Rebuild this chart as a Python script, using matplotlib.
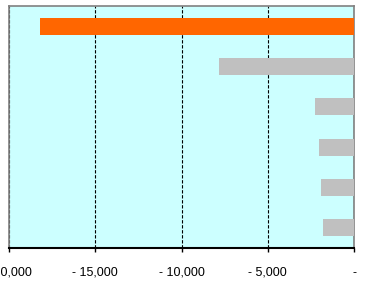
import matplotlib.pyplot as plt
from matplotlib.ticker import FuncFormatter

plt.rcParams['font.family'] = ['Liberation Sans', 'DejaVu Sans']

categories = ['A', 'B', 'C', 'D', 'E', 'F']
values = [-18180, -7830, -2250, -2020, -1900, -1790]
colors = ['#FF6600', '#C0C0C0', '#C0C0C0', '#C0C0C0', '#C0C0C0', '#C0C0C0']
xticks = [-20000, -15000, -10000, -5000, 0]


def fmt(v, pos):
    # accounting style: zero shown as a dash
    if v == 0:
        return '-'
    return '-' + ' ' + format(int(abs(v)), ',')


fig = plt.figure(figsize=(3.76, 2.81), dpi=100)
ax = fig.add_axes([0.024, 0.1174, 0.9176, 0.8612])
ax.set_facecolor('#CCFFFF')

ypos = list(range(len(categories)))
ax.barh(ypos, values, height=0.42, color=colors, zorder=3)
ax.set_ylim(len(categories) - 0.5, -0.5)
ax.set_xlim(-20000, 0)
ax.set_xticks(xticks)
ax.xaxis.set_major_formatter(FuncFormatter(fmt))
ax.set_yticks([])
ax.grid(axis='x', color='black', linestyle=(0, (3, 1.5)), linewidth=0.8, zorder=1)
ax.tick_params(axis='x', length=3, width=1, direction='out', labelsize=9, pad=10.5)

for side in ['top', 'left', 'right']:
    ax.spines[side].set_color('#808080')
    ax.spines[side].set_linewidth(1.2)
ax.spines['bottom'].set_color('black')
ax.spines['bottom'].set_linewidth(1.5)

fig.savefig('out.png', dpi=100)
plt.close()
